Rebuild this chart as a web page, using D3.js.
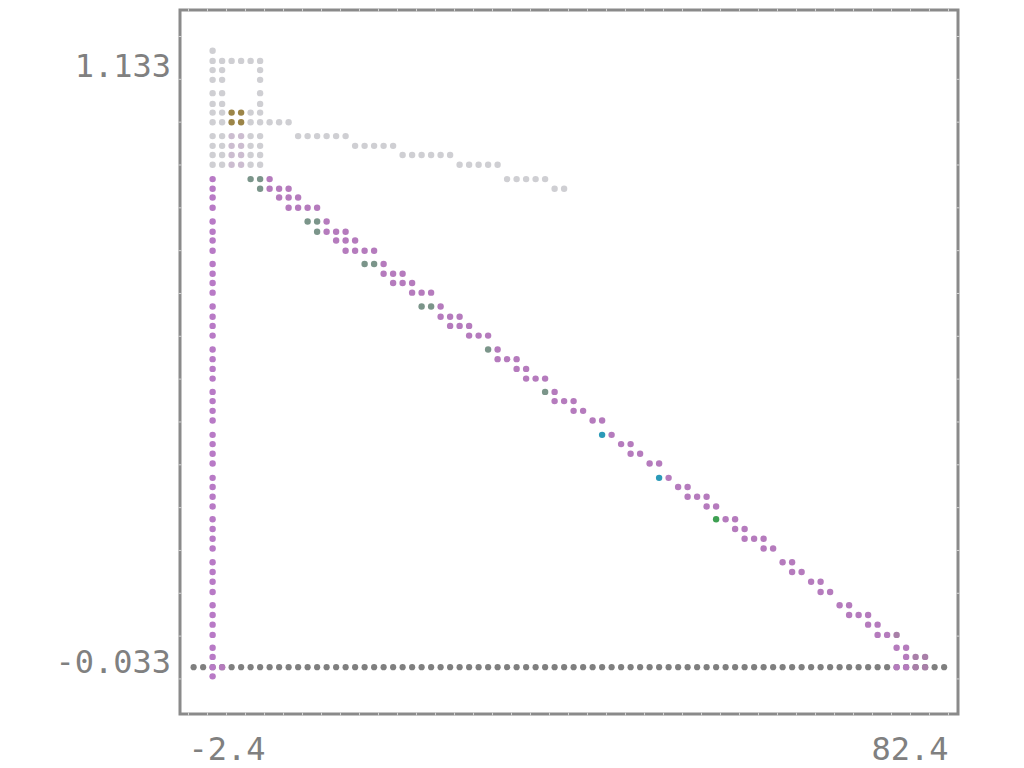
<!DOCTYPE html>
<html>
<head>
<meta charset="utf-8">
<script src="https://cdn.jsdelivr.net/npm/d3@7"></script>
<style>
  body { margin: 0; background: #ffffff; }
</style>
</head>
<body>
<div id="chart"></div>
<script>
// tick labels shown on the axes
var xTickValues = [-2.4, 82.4];
var xTickLabels = ["-2.4", "82.4"];
var yTickValues = [1.133, -0.033];
var yTickLabels = ["1.133", "-0.033"];

// long gray row, every dot sits on the same y
var baseY = -0.044;
var baseX = [-1.83, -0.77, 0.29, 1.35, 2.41, 3.47, 4.53, 5.59, 6.65, 7.71,
  8.77, 9.83, 10.89, 11.95, 13.01, 14.07, 15.13, 16.19, 17.25, 18.31,
  19.37, 20.43, 21.49, 22.55, 23.61, 24.67, 25.73, 26.79, 27.85, 28.91,
  29.97, 31.03, 32.09, 33.15, 34.21, 35.27, 36.33, 37.39, 38.45, 39.51,
  40.57, 41.63, 42.69, 43.75, 44.81, 45.87, 46.93, 47.99, 49.05, 50.11,
  51.17, 52.23, 53.29, 54.35, 55.41, 56.47, 57.53, 58.59, 59.65, 60.71,
  61.77, 62.83, 63.89, 64.95, 66.01, 67.07, 68.13, 69.19, 70.25, 71.31,
  72.37, 73.43, 74.49, 75.55, 76.61, 77.67, 78.73, 79.79, 80.85, 81.91];

// purple column, every dot sits on the same x
var stemX = 0.29;
var stemY = [0.910, 0.891, 0.874, 0.854, 0.827, 0.807, 0.790, 0.770,
  0.744, 0.725, 0.707, 0.688, 0.661, 0.641, 0.623, 0.604,
  0.577, 0.558, 0.539, 0.520, 0.494, 0.476, 0.457, 0.438,
  0.410, 0.392, 0.373, 0.354, 0.326, 0.308, 0.289, 0.270,
  0.245, 0.226, 0.207, 0.188, 0.161, 0.142, 0.123, 0.103,
  0.077, 0.058, 0.039, 0.019, -0.006, -0.024, -0.044, -0.062];

// the other series are stored row by row: [y, [x, x, ...]]
var diagRows = [
  [0.910, [6.65]],
  [0.891, [6.65, 7.71, 8.77]],
  [0.874, [7.71, 8.77, 9.83]],
  [0.854, [8.77, 9.83, 10.89, 11.95]],
  [0.827, [13.01]],
  [0.807, [13.01, 14.07, 15.13]],
  [0.790, [14.07, 15.13, 16.19]],
  [0.770, [15.13, 16.19, 17.25, 18.31]],
  [0.744, [19.37]],
  [0.725, [19.37, 20.43, 21.49]],
  [0.707, [20.43, 21.49, 22.55]],
  [0.688, [22.55, 23.61, 24.67]],
  [0.661, [25.73]],
  [0.641, [25.73, 26.79, 27.85]],
  [0.623, [26.79, 27.85, 28.91]],
  [0.604, [28.91, 29.97, 31.03]],
  [0.577, [32.09]],
  [0.558, [32.09, 33.15, 34.21]],
  [0.539, [34.21, 35.27]],
  [0.520, [35.27, 36.33, 37.39]],
  [0.494, [38.45]],
  [0.476, [38.45, 39.51, 40.57]],
  [0.457, [40.57, 41.63]],
  [0.438, [42.69, 43.75]],
  [0.410, [44.81]],
  [0.392, [45.87, 46.93]],
  [0.373, [46.93, 47.99]],
  [0.354, [49.05, 50.11]],
  [0.326, [51.17]],
  [0.308, [52.23, 53.29]],
  [0.289, [53.29, 54.35, 55.41]],
  [0.270, [55.41, 56.47]],
  [0.245, [57.53, 58.59]],
  [0.226, [58.59, 59.65]],
  [0.207, [59.65, 60.71, 61.77]],
  [0.188, [61.77, 62.83]],
  [0.161, [63.89, 64.95]],
  [0.142, [64.95, 66.01]],
  [0.123, [67.07, 68.13]],
  [0.103, [68.13, 69.19]],
  [0.077, [70.25, 71.31]],
  [0.058, [71.31, 72.37, 73.43]],
  [0.039, [73.43, 74.49]],
  [0.019, [74.49, 75.55]],
  [-0.006, [76.61, 77.67]],
  [-0.024, [77.67]],
  [-0.044, [1.35, 76.61, 77.67]]
];

var mutedRows = [
  [0.019, [76.61]],
  [-0.024, [78.73, 79.79]],
  [-0.044, [78.73, 79.79]]
];

var sageRows = [
  [0.910, [4.53, 5.59]],
  [0.891, [5.59]],
  [0.827, [10.89, 11.95]],
  [0.807, [11.95]],
  [0.744, [17.25, 18.31]],
  [0.661, [23.61, 24.67]],
  [0.577, [31.03]],
  [0.494, [37.39]]
];

var tealRows = [
  [0.410, [43.75]],
  [0.326, [50.11]]
];

var greenRows = [
  [0.245, [56.47]]
];

var lightRows = [
  [1.161, [0.29]],
  [1.141, [0.29, 1.35, 2.41, 3.47, 4.53, 5.59]],
  [1.123, [0.29, 1.35, 5.59]],
  [1.104, [0.29, 1.35, 5.59]],
  [1.078, [0.29, 1.35, 5.59]],
  [1.057, [0.29, 1.35, 5.59]],
  [1.040, [0.29, 1.35, 4.53, 5.59]],
  [1.021, [0.29, 1.35, 4.53, 5.59, 6.65, 7.71, 8.77]],
  [0.994, [0.29, 1.35, 4.53, 5.59, 9.83, 10.89, 11.95, 13.01, 14.07, 15.13]],
  [0.975, [0.29, 1.35, 4.53, 5.59, 16.19, 17.25, 18.31, 19.37, 20.43]],
  [0.957, [0.29, 1.35, 4.53, 5.59, 21.49, 22.55, 23.61, 24.67, 25.73, 26.79]],
  [0.938, [0.29, 1.35, 4.53, 5.59, 27.85, 28.91, 29.97, 31.03, 32.09]],
  [0.910, [33.15, 34.21, 35.27, 36.33, 37.39]],
  [0.891, [38.45, 39.51]]
];

var oliveRows = [
  [1.040, [2.41, 3.47]],
  [1.021, [2.41, 3.47]]
];

var lilacRows = [
  [0.994, [2.41, 3.47]],
  [0.975, [2.41, 3.47]],
  [0.957, [2.41, 3.47]],
  [0.938, [2.41, 3.47]]
];

var width = 1024,
    height = 768;

var svg = d3.select("#chart").append("svg")
  .attr("width", width)
  .attr("height", height);

var x = d3.scaleLinear()
  .domain([-2.4, 82.4])
  .range([188.5, 948.5]);

var y = d3.scaleLinear()
  .domain([-0.033, 1.133])
  .range([661.5, 65]);

// frame round the plot
var frame = {left: 180, right: 958, top: 10, bottom: 714};

svg.append("rect")
  .attr("x", frame.left)
  .attr("y", frame.top)
  .attr("width", frame.right - frame.left)
  .attr("height", frame.bottom - frame.top)
  .style("fill", "none")
  .style("stroke", "#8a8a8a")
  .style("stroke-width", 3);

// thin light notches on the frame
var xNotches = d3.range(41).map(function(i){ return -2.4 + i * 2.12; });
var yNotches = d3.range(16).map(function(i){ return 36.5 + i * 42.83; });

svg.append("g").selectAll("line.xn")
  .data(xNotches.concat(xNotches).map(function(v, i){ return {v: v, edge: i < 41 ? frame.top : frame.bottom}; }))
  .enter().append("line")
  .attr("x1", function(d){ return x(d.v); })
  .attr("x2", function(d){ return x(d.v); })
  .attr("y1", function(d){ return d.edge - 1.5; })
  .attr("y2", function(d){ return d.edge + 1.5; })
  .style("stroke", "#d4d4d4")
  .style("stroke-width", 1);

svg.append("g").selectAll("line.yn")
  .data(yNotches.concat(yNotches).map(function(v, i){ return {v: v, edge: i < 16 ? frame.left : frame.right}; }))
  .enter().append("line")
  .attr("y1", function(d){ return d.v; })
  .attr("y2", function(d){ return d.v; })
  .attr("x1", function(d){ return d.edge - 1.5; })
  .attr("x2", function(d){ return d.edge + 1.5; })
  .style("stroke", "#d4d4d4")
  .style("stroke-width", 1);

// tick labels
svg.append("g").selectAll("text")
  .data(xTickValues)
  .enter().append("text")
  .attr("x", function(d){ return x(d); })
  .attr("y", 760)
  .attr("text-anchor", function(d, i){ return i === 0 ? "start" : "end"; })
  .style("font", "32px 'DejaVu Sans Mono', monospace")
  .style("fill", "#808080")
  .text(function(d, i){ return xTickLabels[i]; });

svg.append("g").selectAll("text")
  .data(yTickValues)
  .enter().append("text")
  .attr("x", 171)
  .attr("y", function(d){ return y(d); })
  .attr("dy", "0.36em")
  .attr("text-anchor", "end")
  .style("font", "32px 'DejaVu Sans Mono', monospace")
  .style("fill", "#808080")
  .text(function(d, i){ return yTickLabels[i]; });

function rowsToPoints(rows) {
  return rows.flatMap(function(r){
    return r[1].map(function(v){ return {x: v, y: r[0]}; });
  });
}

function drawDots(points, color, radius) {
  svg.append("g").selectAll("circle")
    .data(points)
    .enter().append("circle")
    .attr("cx", function(d){ return x(d.x); })
    .attr("cy", function(d){ return y(d.y); })
    .attr("r", radius)
    .style("fill", color);
}

drawDots(rowsToPoints(lightRows), "#cfcfd3", 3.2);
drawDots(rowsToPoints(oliveRows), "#9c8548", 3.2);
drawDots(rowsToPoints(lilacRows), "#ccbdd0", 3.2);
drawDots(baseX.map(function(v){ return {x: v, y: baseY}; }), "#7f7f7f", 3.1);
drawDots(stemY.map(function(v){ return {x: stemX, y: v}; }), "#b87ac6", 3.2);
drawDots(rowsToPoints(diagRows), "#b57bbd", 3.2);
drawDots(rowsToPoints(mutedRows), "#a87fa8", 3.2);
drawDots(rowsToPoints(sageRows), "#7b958a", 3.2);
drawDots(rowsToPoints(tealRows), "#2b9ab8", 3.2);
drawDots(rowsToPoints(greenRows), "#3ea052", 3.2);
</script>
</body>
</html>
